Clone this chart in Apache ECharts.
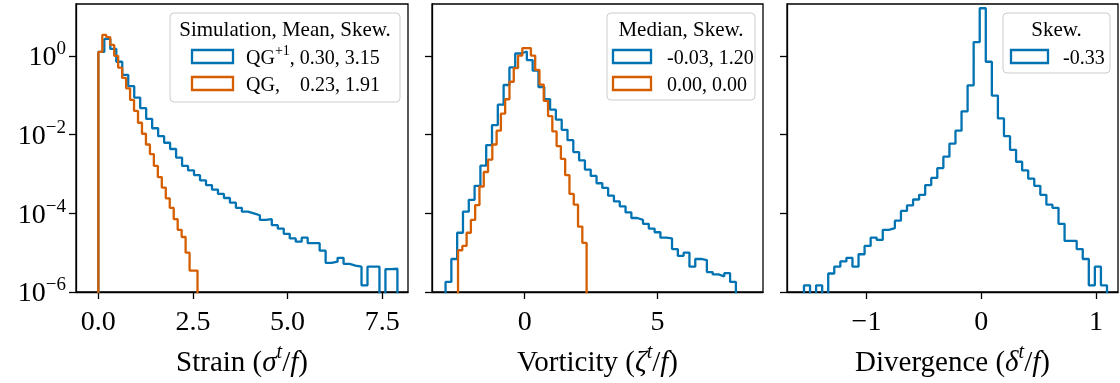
<!DOCTYPE html>
<html><head><meta charset="utf-8">
<script src="https://cdn.jsdelivr.net/npm/echarts@6/dist/echarts.min.js"></script>
<style>html,body{margin:0;padding:0;background:#fff}#c{width:1120px;height:383px}</style>
</head><body><div id="c"></div>
<script>
// ---------------- data (probability densities per bin) ----------------
const strainQGp1Range = [0.0, 7.9];
const strainQGp1 = [1.26, 2.7, 1.5, 0.71, 0.33, 0.17, 0.087, 0.047, 0.025, 0.0145,
  0.0091, 0.0062, 0.0043, 0.0026, 0.0016, 0.00123, 0.00093, 0.00069, 0.00052, 0.0004,
  0.00031, 0.000245, 0.000186, 0.000138, 0.00011, 0.0001, 8.9e-5, 6.8e-5, 7.1e-5, 5.0e-5,
  4.1e-5, 3.0e-5, 2.3e-5, 1.9e-5, 2.4e-5, 1.74e-5, 1.74e-5, 1.12e-5, 5.5e-6, 5.9e-6,
  7.4e-6, 5.2e-6, 4.7e-6, 4.4e-6, 1.48e-6, 4.4e-6, 4.4e-6, 0, 3.8e-6, 3.9e-6];
const strainQGRange = [0.0, 2.62];
const strainQG = [1.26, 3.4, 3.0, 1.9, 1.0, 0.5, 0.275, 0.15, 0.076, 0.04,
  0.02, 0.0105, 0.0056, 0.0032, 0.0016, 0.00083, 0.00045, 0.00024, 0.000138, 7.1e-5,
  3.8e-5, 2.5e-5, 1.0e-5, 3.5e-6, 3.5e-6];
const vortQGp1Range = [-2.98, 7.95];
const vortQGp1 = [1.8e-6, 6.9e-6, 3.2e-5, 1.1e-4, 2.2e-4, 5.0e-4, 1.62e-3, 5.4e-3, 0.0174, 0.0575,
  0.182, 0.51, 1.15, 1.29, 0.78, 0.42, 0.162, 0.079, 0.043, 0.024,
  0.0132, 0.0072, 0.0036, 0.0022, 0.00129, 8.9e-4, 5.8e-4, 4.4e-4, 2.8e-4, 2.0e-4,
  1.5e-4, 1.05e-4, 7.6e-5, 6.8e-5, 5.4e-5, 4.1e-5, 3.3e-5, 2.4e-5, 2.3e-5, 1.23e-5,
  8.3e-6, 1.0e-5, 4.4e-6, 6.9e-6, 6.5e-6, 3.2e-6, 2.8e-6, 2.5e-6, 3.0e-6, 1.8e-6];
const vortQGRange = [-2.51, 2.33];
const vortQG = [1.15e-5, 1.48e-5, 3.2e-5, 6.8e-5, 1.62e-4, 4.8e-4, 1.12e-3, 2.3e-3, 5.6e-3, 0.0126,
  0.034, 0.079, 0.22, 0.49, 1.02, 1.58, 1.58, 1.02, 0.44, 0.186,
  0.072, 0.0295, 0.012, 0.0051, 0.0024, 9.3e-4, 3.1e-4, 1.66e-4, 4.6e-5, 1.78e-5];
const divQGp1Range = [-1.545, 1.096];
const divQGp1 = [1.48e-6, 0, 1.48e-6, 0, 2.95e-6, 4.4e-6, 6.0e-6, 7.4e-6, 4.4e-6, 9.1e-6,
  1.48e-5, 2.4e-5, 2.1e-5, 3.8e-5, 4.2e-5, 6.5e-5, 1.15e-4, 1.58e-4, 2.24e-4, 2.95e-4,
  5.2e-4, 7.9e-4, 1.41e-3, 2.75e-3, 5.9e-3, 0.0126, 0.039, 0.178, 2.24, 16.2,
  0.71, 0.098, 0.0257, 9.1e-3, 4.1e-3, 2.04e-3, 1.23e-3, 7.6e-4, 5.0e-4, 2.95e-4,
  1.66e-4, 1.38e-4, 5.4e-5, 2.0e-5, 2.0e-5, 1.23e-5, 6.9e-6, 1.48e-6, 4.4e-6, 1.48e-6];

const yTicks = [1e-6, 1e-4, 1e-2, 1];
const strainTicks = [0, 2.5, 5, 7.5];
const vortTicks = [0, 5];
const divTicks = [-1, 0, 1];

const legend1Title = 'Simulation, Mean, Skew.';
const legend1Rows = ['{n|QG}{s|+1}{n|, 0.30, 3.15}', '{n|QG,    0.23, 1.91}'];
const legend2Title = 'Median, Skew.';
const legend2Rows = ['-0.03, 1.20', '0.00, 0.00'];
const legend3Title = 'Skew.';
const legend3Rows = ['-0.33'];

// ---------------- styling ----------------
const BLUE = '#0173B2', ORANGE = '#D55E00';
const FONT = "'Liberation Serif', 'DejaVu Serif', serif";
const TICK_FS = 28, NAME_FS = 29, LEG_FS = 20, LEG_TITLE_FS = 21;

function stepPoints(range, vals) {
  const n = vals.length, w = (range[1] - range[0]) / n, FLOOR = 1e-12;
  const pts = [[range[0], FLOOR]];
  for (let i = 0; i < n; i++) {
    const v = vals[i] > 0 ? vals[i] : FLOOR;
    const a = range[0] + i * w, b = range[0] + (i + 1) * w;
    pts.push([a, v], [b, v]);
  }
  pts.push([range[1], FLOOR]);
  return pts;
}

const grids = [
  {left: 76, top: 4, width: 332, height: 296},
  {left: 432, top: 4, width: 331, height: 296},
  {left: 787, top: 4, width: 331, height: 296}
].map(g => Object.assign({show: true, borderColor: '#000', borderWidth: 1.3, backgroundColor: '#fff'}, g));

const tickRich = {
  n: {fontFamily: FONT, fontSize: TICK_FS, color: '#000', lineHeight: 32, verticalAlign: 'bottom'},
  s: {fontFamily: FONT, fontSize: 19, color: '#000', lineHeight: 19, verticalAlign: 'top'}
};
const nameRich = {
  n: {fontFamily: FONT, fontSize: NAME_FS, color: '#000', lineHeight: 35, verticalAlign: 'bottom'},
  i: {fontFamily: FONT, fontSize: NAME_FS, fontStyle: 'italic', color: '#000', lineHeight: 35, verticalAlign: 'bottom'},
  s: {fontFamily: FONT, fontSize: 20, fontStyle: 'italic', color: '#000', lineHeight: 21, verticalAlign: 'top'}
};
function fmtNum(v) { return String(v).replace('-', '\u2212'); }

function xAxis(i, min, max, ticks, fmt, name) {
  return {
    type: 'value', gridIndex: i, min: min, max: max,
    axisLine: {show: true, onZero: false, lineStyle: {color: '#000', width: 1.3}},
    axisTick: {show: true, length: 7, lineStyle: {color: '#000', width: 1.3}, customValues: ticks},
    axisLabel: {show: true, customValues: ticks, margin: 13, formatter: v => '{n|' + fmt(v) + '}', rich: tickRich},
    splitLine: {show: false},
    name: name, nameLocation: 'middle', nameGap: 51,
    nameTextStyle: {rich: nameRich}
  };
}
function yAxis(i) {
  return {
    type: 'log', logBase: 10, gridIndex: i, min: 1e-6, max: 20.8,
    axisLine: {show: true, onZero: false, lineStyle: {color: '#000', width: 1.3}},
    axisTick: {show: true, length: 7, lineStyle: {color: '#000', width: 1.3}, customValues: yTicks},
    axisLabel: {show: i === 0, customValues: yTicks, margin: 10,
      formatter: v => { const e = Math.round(Math.log10(v)); return '{n|10}{s|' + (e < 0 ? '\u2212' : '') + Math.abs(e) + '}'; },
      rich: tickRich},
    splitLine: {show: false}, minorTick: {show: false}
  };
}

function series(name, xi, color, range, vals) {
  return {name: name, type: 'line', xAxisIndex: xi, yAxisIndex: xi, data: stepPoints(range, vals),
    showSymbol: false, symbol: 'none', lineStyle: {color: color, width: 2.3}, itemStyle: {color: color},
    clip: true, animation: false, z: color === BLUE ? 3 : 4};
}

const legRich = {
  n: {fontFamily: FONT, fontSize: LEG_FS, color: '#000', lineHeight: 24, verticalAlign: 'bottom'},
  s: {fontFamily: FONT, fontSize: 14, color: '#000', lineHeight: 14, verticalAlign: 'top'}
};
function legendGraphics(box, title, rows, colors, patchX, patchW, textX) {
  const g = [];
  g.push({type: 'rect', shape: {x: box[0], y: box[1], width: box[2], height: box[3], r: 4},
    style: {fill: 'rgba(255,255,255,0.8)', stroke: '#cccccc', lineWidth: 1}, z: 50});
  g.push({type: 'text', x: box[0] + box[2] / 2, y: 30, z: 51,
    style: {text: title, font: LEG_TITLE_FS + 'px ' + FONT, fill: '#000', align: 'center', verticalAlign: 'middle'}});
  rows.forEach((r, k) => {
    const cy = 56.5 + k * 27;
    g.push({type: 'rect', shape: {x: patchX, y: cy - 6.5, width: patchW, height: 13},
      style: {fill: 'rgba(0,0,0,0)', stroke: colors[k], lineWidth: 2.3}, z: 51});
    g.push({type: 'text', x: textX, y: cy, z: 51,
      style: {text: r.indexOf('{') === 0 ? r : '{n|' + r + '}', rich: legRich, fill: '#000',
        align: 'left', verticalAlign: 'middle'}});
  });
  return g;
}

const chart = echarts.init(document.getElementById('c'), null, {renderer: 'canvas'});
chart.setOption({
  backgroundColor: '#fff',
  animation: false,
  grid: grids,
  xAxis: [
    xAxis(0, -0.59, 8.18, strainTicks, v => v.toFixed(1), '{n|Strain (}{i|σ}{s|t}{n|/}{i|f}{n|)}'),
    xAxis(1, -3.49, 8.97, vortTicks, v => fmtNum(v), '{n|Vorticity (}{i|ζ}{s|t}{n|/}{i|f}{n|)}'),
    xAxis(2, -1.693, 1.192, divTicks, v => fmtNum(v), '{n|Divergence (}{i|δ}{s|t}{n|/}{i|f}{n|)}')
  ],
  yAxis: [yAxis(0), yAxis(1), yAxis(2)],
  series: [
    series('QG+1 strain', 0, BLUE, strainQGp1Range, strainQGp1),
    series('QG strain', 0, ORANGE, strainQGRange, strainQG),
    series('QG+1 vorticity', 1, BLUE, vortQGp1Range, vortQGp1),
    series('QG vorticity', 1, ORANGE, vortQGRange, vortQG),
    series('QG+1 divergence', 2, BLUE, divQGp1Range, divQGp1)
  ],
  graphic: [].concat(
    legendGraphics([170, 13, 230, 89], legend1Title, legend1Rows, [BLUE, ORANGE], 192, 41, 246),
    legendGraphics([607, 13, 148, 87], legend2Title, legend2Rows, [BLUE, ORANGE], 613, 38, 667),
    legendGraphics([1003, 13, 107, 60], legend3Title, legend3Rows, [BLUE], 1011, 37, 1063)
  )
});
</script></body></html>
